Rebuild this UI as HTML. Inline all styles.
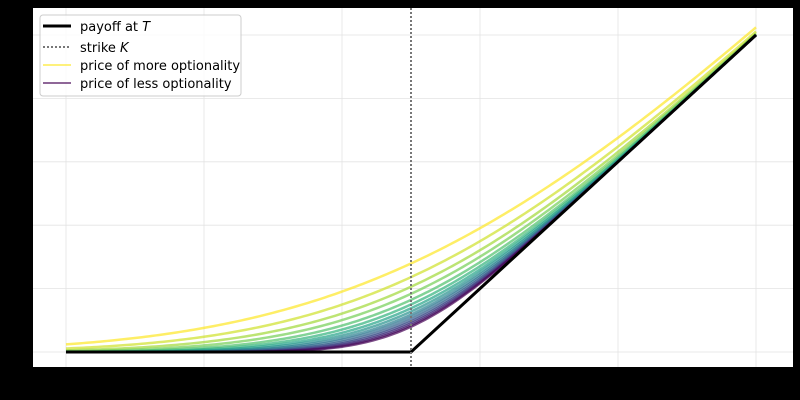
<!DOCTYPE html>
<html><head><meta charset="utf-8"><style>
html,body{margin:0;padding:0;background:#000;}
svg{display:block;font-family:"DejaVu Sans","Liberation Sans",sans-serif;}
</style></head><body>
<svg id="chart" width="800" height="400" viewBox="0 0 800 400" xmlns="http://www.w3.org/2000/svg">
<rect x="0" y="0" width="800" height="400" fill="#000"/>
<rect x="33" y="8" width="760" height="359" fill="#fff"/>
<g id="grid"></g>
<g id="series"></g>
<g id="legend">
<rect x="40" y="15" width="201" height="81" rx="3" fill="#fff" fill-opacity="0.8" stroke="#ccc"/>
<line x1="43" y1="26" x2="71" y2="26" stroke="#000" stroke-width="3"/>
<text x="80" y="31" font-size="13" fill="#000">payoff at <tspan font-style="italic">T</tspan></text>
<line x1="43" y1="47" x2="71" y2="47" stroke="#777" stroke-width="2" stroke-dasharray="2,2"/>
<text x="80" y="52" font-size="13" fill="#000">strike <tspan font-style="italic">K</tspan></text>
<line x1="43" y1="65" x2="71" y2="65" stroke="#fde725" stroke-opacity="0.6" stroke-width="2"/>
<text x="80" y="70" font-size="13" fill="#000">price of more optionality</text>
<line x1="43" y1="83" x2="71" y2="83" stroke="#440154" stroke-opacity="0.6" stroke-width="2"/>
<text x="80" y="88" font-size="13" fill="#000">price of less optionality</text>
</g>
</svg>
<script>
const strike = [100];
const xTicks = [50, 70, 90, 110, 130, 150];
const yTicks = [0, 10, 20, 30, 40, 50];
const vols = [35,29.6,25.8,23,20.6,18.8,17.3,16,14.8,13.8,12.8,12,11.3,10.6,10];
const spotRange = [50, 150];

const NS='http://www.w3.org/2000/svg';
const X = v => 66 + (v-50)*6.9;
const Y = v => 352 - v*6.34;
function mk(tag, attrs, parent){const e=document.createElementNS(NS,tag);for(const k in attrs)e.setAttribute(k,attrs[k]);parent.appendChild(e);return e;}
const grid=document.getElementById('grid'), ser=document.getElementById('series');
xTicks.forEach(t=>{const l=mk('line',{x1:X(t),x2:X(t),y1:8,y2:367,stroke:'#e3e3e3','stroke-width':0.8},grid);

});
yTicks.forEach(t=>{const l=mk('line',{x1:33,x2:793,y1:Y(t),y2:Y(t),stroke:'#e3e3e3','stroke-width':0.8},grid);

});
function erf(x){const s=Math.sign(x);x=Math.abs(x);const t=1/(1+0.3275911*x);const y=1-(((((1.061405429*t-1.453152027)*t)+1.421413741)*t-0.284496736)*t+0.254829592)*t*Math.exp(-x*x);return s*y;}
const N=x=>0.5*(1+erf(x/Math.SQRT2));
const pdf=x=>Math.exp(-x*x/2)/Math.sqrt(2*Math.PI);
function bach(S,K,v){const d=(S-K)/v;return (S-K)*N(d)+v*pdf(d);}
const vir=[[253,231,37],[181,222,43],[110,206,88],[53,183,121],[31,158,137],[38,130,142],[49,104,142],[62,74,137],[72,40,120],[68,1,84]];
function col(t){const p=t*(vir.length-1),i=Math.min(Math.floor(p),vir.length-2),f=p-i;const c=vir[i].map((a,k)=>Math.round(a+(vir[i+1][k]-a)*f));return `rgb(${c.join(',')})`;}
const K=strike[0];
vols.forEach((v,i)=>{let d='';for(let s=spotRange[0];s<=spotRange[1];s+=0.5){d+=(d?'L':'M')+X(s).toFixed(2)+','+Y(bach(s,K,v)).toFixed(2);}
const p=mk('path',{d:d,fill:'none',stroke:col(i/(vols.length-1)),'stroke-width':2.5,'stroke-opacity':0.7},ser);

});
const pay=mk('path',{d:`M${X(spotRange[0])},${Y(0)}L${X(K)},${Y(0)}L${X(spotRange[1])},${Y(spotRange[1]-K)}`,fill:'none',stroke:'#000','stroke-width':3},ser);


const kl=mk('line',{x1:X(K),x2:X(K),y1:8,y2:367,stroke:'#777','stroke-width':2,'stroke-dasharray':'2,2'},ser);


</script>
</body></html>
